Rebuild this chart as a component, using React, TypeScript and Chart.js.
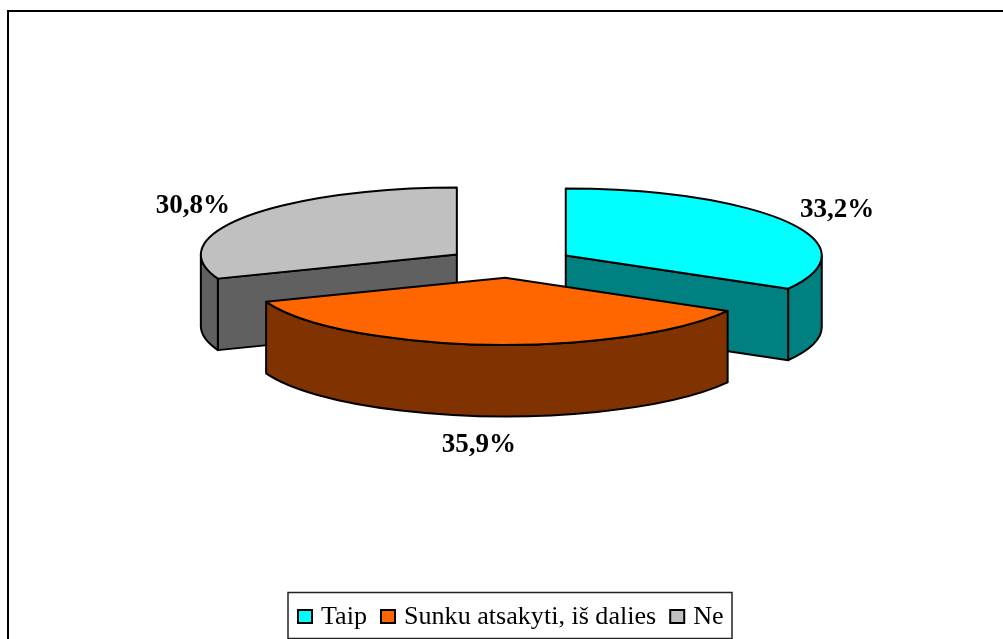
import React, { useEffect, useRef } from "react";
import { Chart, registerables } from "chart.js";

Chart.register(...registerables);

const categories = ["Taip", "Sunku atsakyti, iš dalies", "Ne"];
const values = [33.2, 35.9, 30.8];
const valueLabels = ["33,2%", "35,9%", "30,8%"];
const topColors = ["#00FFFF", "#FF6600", "#C0C0C0"];
const sideColors = ["#008080", "#803300", "#606060"];

const SQUASH = 0.262;
const OFFSET_SQUASH = 0.23;
const DEPTH = 71.5;
const SERIF = '"Liberation Serif", "Times New Roman", serif';
const labelNudges = [[50, -12], [-7, 29], [-53, -11]];

const pie3d = {
  id: "pie3d",
  beforeDatasetDraw(chart: any) {
    const ctx = chart.ctx;
    const arcs = chart.getDatasetMeta(0).data as any[];
    const parts = arcs.map((arc, i) => {
      const { x, y, startAngle, endAngle, outerRadius } = arc;
      const mid = (startAngle + endAngle) / 2;
      const off = (arc.options.offset || 0) / 4;
      return {
        i,
        startAngle,
        endAngle,
        mid,
        R: outerRadius,
        ox: x + Math.cos(mid) * off,
        oy: y + Math.sin(mid) * off * OFFSET_SQUASH,
      };
    });
    ctx.save();
    ctx.lineWidth = 2;
    ctx.strokeStyle = "#000";
    ctx.lineJoin = "round";
    const paint = (fill: string) => {
      ctx.fillStyle = fill;
      ctx.fill();
      ctx.stroke();
    };
    [...parts].sort((a, b) => a.oy - b.oy).forEach((p) => {
      const ry = p.R * SQUASH;
      const rim = (a: number) => [p.ox + p.R * Math.cos(a), p.oy + ry * Math.sin(a)];
      const face = (a: number) => {
        const [px, py] = rim(a);
        ctx.beginPath();
        ctx.moveTo(p.ox, p.oy);
        ctx.lineTo(px, py);
        ctx.lineTo(px, py + DEPTH);
        ctx.lineTo(p.ox, p.oy + DEPTH);
        ctx.closePath();
        paint(sideColors[p.i]);
      };
      if (Math.cos(p.endAngle) > 1e-6) face(p.endAngle);
      if (-Math.cos(p.startAngle) > 1e-6) face(p.startAngle);
      const a1 = Math.max(p.startAngle, 0);
      const a2 = Math.min(p.endAngle, Math.PI);
      if (a2 > a1) {
        ctx.beginPath();
        ctx.ellipse(p.ox, p.oy, p.R, ry, 0, a1, a2);
        ctx.ellipse(p.ox, p.oy + DEPTH, p.R, ry, 0, a2, a1, true);
        ctx.closePath();
        paint(sideColors[p.i]);
      }
      ctx.beginPath();
      ctx.moveTo(p.ox, p.oy);
      ctx.ellipse(p.ox, p.oy, p.R, ry, 0, p.startAngle, p.endAngle);
      ctx.closePath();
      paint(topColors[p.i]);
    });
    ctx.fillStyle = "#000";
    ctx.font = `bold 27px ${SERIF}`;
    ctx.textAlign = "center";
    ctx.textBaseline = "middle";
    parts.forEach((p) => {
      const [nx, ny] = labelNudges[p.i];
      const bump = Math.sin(p.mid) > 0 ? DEPTH : 0;
      ctx.fillText(
        valueLabels[p.i],
        p.ox + p.R * Math.cos(p.mid) + nx,
        p.oy + p.R * SQUASH * Math.sin(p.mid) + bump + ny
      );
    });
    ctx.restore();
    return false;
  },
  afterDraw(chart: any) {
    const ctx = chart.ctx;
    ctx.save();
    // outer frame
    ctx.strokeStyle = "#000";
    ctx.lineWidth = 2;
    ctx.beginPath();
    ctx.moveTo(8, 639);
    ctx.lineTo(8, 11);
    ctx.lineTo(1003, 11);
    ctx.stroke();
    // legend
    ctx.lineWidth = 1.5;
    ctx.strokeStyle = "#222";
    ctx.fillStyle = "#fff";
    ctx.fillRect(288, 592.5, 444, 46);
    ctx.strokeRect(288, 592.5, 444, 46);
    ctx.font = `26.1px ${SERIF}`;
    ctx.textAlign = "left";
    ctx.textBaseline = "alphabetic";
    let x = 298;
    categories.forEach((name, i) => {
      ctx.fillStyle = topColors[i];
      ctx.strokeStyle = "#000";
      ctx.lineWidth = 2;
      ctx.fillRect(x, 610, 14, 13);
      ctx.strokeRect(x, 610, 14, 13);
      ctx.fillStyle = "#000";
      ctx.fillText(name, x + 23, 623.5);
      x += 23 + ctx.measureText(name).width + 14;
    });
    ctx.restore();
  },
};

export default function App() {
  const ref = useRef<HTMLCanvasElement>(null);
  useEffect(() => {
    const chart = new Chart(ref.current!, {
      type: "pie",
      data: {
        labels: categories,
        datasets: [{ data: values, backgroundColor: topColors, offset: 258, borderWidth: 0 }],
      },
      options: {
        animation: false,
        responsive: false,
        radius: 256,
        layout: { padding: { left: 17, bottom: 113 } },
        plugins: { legend: { display: false }, tooltip: { enabled: false } },
      } as any,
      plugins: [pie3d],
    });
    return () => chart.destroy();
  }, []);
  return (
    <div style={{ position: "absolute", left: 0, top: 0, width: 1003, height: 639, background: "#fff" }}>
      <canvas ref={ref} width={1003} height={639} style={{ display: "block" }} />
    </div>
  );
}
